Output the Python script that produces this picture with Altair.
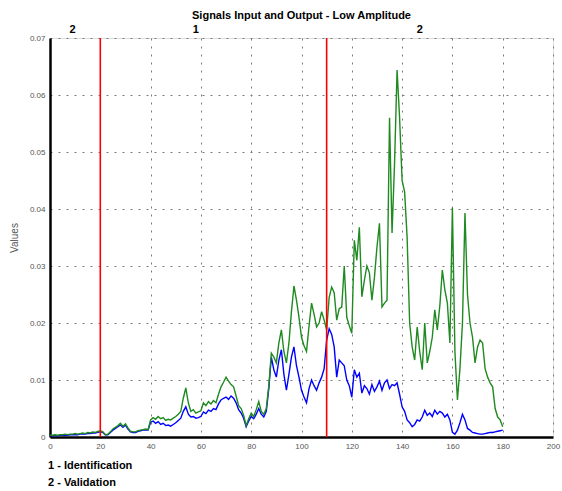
import altair as alt
import pandas as pd

# ---- data ----
x_vals = list(range(0, 181))

green_vals = [
    0.0003, 0.0003, 0.0004, 0.0003, 0.0004, 0.0004, 0.0005, 0.0004, 0.0005, 0.0005,
    0.0006, 0.0005, 0.0006, 0.0007, 0.0006, 0.0008, 0.0007, 0.0009, 0.0008, 0.0010,
    0.0011, 0.0009, 0.0004, 0.0005, 0.0009, 0.0014, 0.0017, 0.0020, 0.0024, 0.0019,
    0.0023, 0.0016, 0.0010, 0.0009, 0.0009, 0.0011, 0.0012, 0.0013, 0.0014, 0.0013,
    0.0030, 0.0034, 0.0031, 0.0036, 0.0032, 0.0034, 0.0029, 0.0031, 0.0030, 0.0033,
    0.0036, 0.0040, 0.0045, 0.0068, 0.0086, 0.0060, 0.0045, 0.0048, 0.0042, 0.0044,
    0.0046, 0.0060, 0.0055, 0.0062, 0.0058, 0.0064, 0.0060, 0.0075, 0.0088, 0.0096,
    0.0105, 0.0098, 0.0092, 0.0088, 0.0072, 0.0055, 0.0050, 0.0038, 0.0020, 0.0032,
    0.0042, 0.0036, 0.0048, 0.0062, 0.0045, 0.0040, 0.0050, 0.0090, 0.0147, 0.0140,
    0.0130, 0.0165, 0.0188, 0.0150, 0.0130, 0.0165, 0.0220, 0.0265, 0.0240, 0.0210,
    0.0175, 0.0160, 0.0150, 0.0195, 0.0235, 0.0215, 0.0193, 0.0200, 0.0220, 0.0205,
    0.0188, 0.0245, 0.0263, 0.0253, 0.0205, 0.0225, 0.0228, 0.0300, 0.0210, 0.0195,
    0.0182, 0.0345, 0.0310, 0.0368, 0.0246, 0.0275, 0.0300, 0.0288, 0.0240, 0.0280,
    0.0333, 0.0375, 0.0228, 0.0235, 0.0240, 0.0560, 0.0358, 0.0480, 0.0644, 0.0560,
    0.0450, 0.0430, 0.0350, 0.0200, 0.0158, 0.0135, 0.0193, 0.0150, 0.0118, 0.0200,
    0.0130, 0.0150, 0.0175, 0.0223, 0.0188, 0.0230, 0.0293, 0.0258, 0.0235, 0.0165,
    0.0402, 0.0150, 0.0065, 0.0120, 0.0200, 0.0393, 0.0250, 0.0200, 0.0175, 0.0130,
    0.0158, 0.0170, 0.0165, 0.0120, 0.0105, 0.0095, 0.0088, 0.0050, 0.0035, 0.0030,
    0.0018,
]

blue_vals = [
    0.0002, 0.0002, 0.0003, 0.0002, 0.0003, 0.0003, 0.0003, 0.0003, 0.0004, 0.0004,
    0.0004, 0.0004, 0.0005, 0.0005, 0.0005, 0.0006, 0.0006, 0.0007, 0.0007, 0.0008,
    0.0009, 0.0008, 0.0004, 0.0004, 0.0008, 0.0012, 0.0015, 0.0018, 0.0021, 0.0017,
    0.0021, 0.0014, 0.0009, 0.0008, 0.0008, 0.0010, 0.0011, 0.0012, 0.0012, 0.0012,
    0.0026, 0.0028, 0.0024, 0.0027, 0.0022, 0.0024, 0.0020, 0.0021, 0.0019, 0.0022,
    0.0025, 0.0029, 0.0033, 0.0045, 0.0053, 0.0040, 0.0035, 0.0036, 0.0033, 0.0034,
    0.0036, 0.0044, 0.0041, 0.0047, 0.0045, 0.0050, 0.0048, 0.0058, 0.0065, 0.0068,
    0.0070, 0.0066, 0.0072, 0.0068, 0.0060, 0.0048, 0.0042, 0.0033, 0.0018, 0.0028,
    0.0036, 0.0032, 0.0040, 0.0050, 0.0040, 0.0035, 0.0045, 0.0085, 0.0140, 0.0118,
    0.0105, 0.0135, 0.0153, 0.0110, 0.0082, 0.0110, 0.0140, 0.0158, 0.0125, 0.0105,
    0.0082, 0.0070, 0.0060, 0.0085, 0.0100, 0.0090, 0.0082, 0.0095, 0.0105, 0.0120,
    0.0170, 0.0190, 0.0180, 0.0158, 0.0105, 0.0135, 0.0130, 0.0125, 0.0100, 0.0090,
    0.0070, 0.0118, 0.0105, 0.0112, 0.0077, 0.0090, 0.0085, 0.0075, 0.0092, 0.0080,
    0.0088, 0.0098, 0.0082, 0.0095, 0.0100, 0.0085, 0.0092, 0.0090, 0.0095, 0.0075,
    0.0053, 0.0045, 0.0030, 0.0025, 0.0018, 0.0022, 0.0030, 0.0028, 0.0035, 0.0047,
    0.0038, 0.0042, 0.0036, 0.0047, 0.0040, 0.0045, 0.0042, 0.0035, 0.0040, 0.0030,
    0.0008, 0.0005, 0.0012, 0.0025, 0.0040, 0.0030, 0.0015, 0.0012, 0.0008, 0.0007,
    0.0006, 0.0005, 0.0005, 0.0006, 0.0007, 0.0008, 0.0008, 0.0009, 0.0010, 0.0011,
    0.0012,
]

split_x = [20, 110]
region_labels = ["2", "1", "2"]
region_label_x = [9, 58, 147]
note_lines = ["1 - Identification", "2 - Validation"]
x_ticks = [0, 20, 40, 60, 80, 100, 120, 140, 160, 180, 200]
y_ticks = [0, 0.01, 0.02, 0.03, 0.04, 0.05, 0.06, 0.07]

FONT = "Liberation Sans"

df = pd.DataFrame({"x": x_vals, "green": green_vals, "blue": blue_vals})
df_split = pd.DataFrame({"x": split_x})
df_regions = pd.DataFrame({"x": region_label_x, "label": region_labels})

xscale = alt.Scale(domain=[0, 200], nice=False, zero=False)
yscale = alt.Scale(domain=[0, 0.07], nice=False)

xaxis = alt.Axis(
    values=x_ticks, title=None, grid=True, gridDash=[2, 6], gridColor="#7a7a7a",
    gridWidth=1, tickSize=0, labelPadding=5, labelFontSize=8, labelColor="#555555",
    labelFont=FONT, domainColor="black", domainWidth=2.5, labelFlush=False,
)
yaxis = alt.Axis(
    values=y_ticks, title="Values", format=".2~f", grid=True, gridDash=[2, 6],
    gridColor="#7a7a7a", gridWidth=1, tickSize=0, labelPadding=5, labelFontSize=8,
    labelColor="#555555", labelFont=FONT, domainColor="black", domainWidth=2.5,
    titleFont=FONT, titleFontSize=10, titleFontWeight="normal", titleColor="#555555",
    titlePadding=10, labelFlush=False,
)

base = alt.Chart(df)

blue_line = base.mark_line(color="#0000ff", strokeWidth=1.4).encode(
    x=alt.X("x:Q", scale=xscale, axis=xaxis),
    y=alt.Y("blue:Q", scale=yscale, axis=yaxis),
)
green_line = base.mark_line(color="#1f8a1f", strokeWidth=1.4).encode(
    x=alt.X("x:Q", scale=xscale, axis=xaxis),
    y=alt.Y("green:Q", scale=yscale, axis=yaxis),
)

rules = alt.Chart(df_split).mark_rule(color="#ff0000", strokeWidth=1.6).encode(
    x=alt.X("x:Q", scale=xscale)
)

region_text = alt.Chart(df_regions).mark_text(
    font=FONT, fontSize=11, fontWeight="bold", baseline="bottom", color="black"
).encode(
    x=alt.X("x:Q", scale=xscale),
    y=alt.value(-3),
    text="label:N",
)

note1 = alt.Chart(pd.DataFrame({"text": [note_lines[0]]})).mark_text(
    font=FONT, fontSize=11, fontWeight="bold", align="left", baseline="middle", color="black"
).encode(x=alt.value(-2), y=alt.value(428), text="text:N")

note2 = alt.Chart(pd.DataFrame({"text": [note_lines[1]]})).mark_text(
    font=FONT, fontSize=11, fontWeight="bold", align="left", baseline="middle", color="black"
).encode(x=alt.value(-2), y=alt.value(445), text="text:N")

chart = alt.layer(blue_line, green_line, rules, region_text, note1, note2).properties(
    width=503,
    height=399,
    padding={"left": 50, "top": 38, "right": 9, "bottom": 54},
    autosize=alt.AutoSizeParams(type="none"),
    title=alt.Title(
        "Signals Input and Output - Low Amplitude",
        font=FONT, fontSize=11, fontWeight="bold", color="black",
        anchor="middle", offset=3,
    ),
).configure_view(stroke="black", strokeWidth=1.5).configure(background="white")

chart.save("out.html", embed_options={"renderer": "svg", "actions": False})
